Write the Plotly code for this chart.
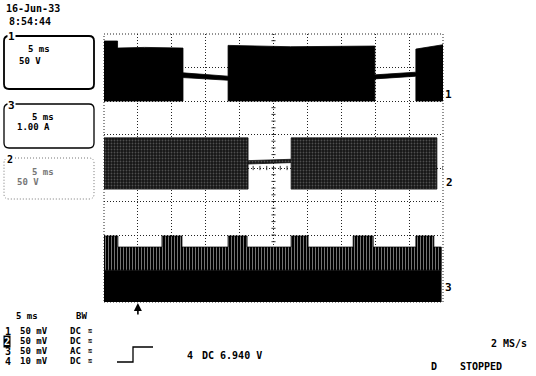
import plotly.graph_objects as go

# ---------------- data (units: screen divisions; 5 ms/div horizontally) ----------------
ch1_time  = [0.00, 0.40, 0.40, 1.20, 2.33, 2.33, 3.66, 3.66, 5.50, 7.99, 7.99, 9.20, 9.20, 10.00]
ch1_upper = [3.79, 3.79, 3.58, 3.60, 3.58, 2.84, 2.74, 3.66, 3.62, 3.64, 2.78, 2.86, 3.55, 3.68]
ch1_lower = [2.00, 2.00, 2.00, 2.00, 2.00, 2.70, 2.62, 2.00, 2.00, 2.00, 2.66, 2.74, 2.00, 2.00]

ch2_time  = [0.00, 4.25, 4.25, 5.52, 5.52, 9.82]
ch2_upper = [0.90, 0.90, 0.22, 0.26, 0.90, 0.90]
ch2_lower = [-0.63, -0.63, 0.12, 0.16, -0.63, -0.63]

ch3_burst_start = [0.00, 1.71, 3.66, 5.52, 7.35, 9.20]
ch3_burst_end   = [0.41, 2.30, 4.22, 6.02, 7.94, 9.73]
ch3_burst_level = [-2.03, -2.03, -2.03, -2.03, -2.03, -2.03]
ch3_base_level  = -2.36
ch3_streak_floor = -3.05
ch3_floor = -4.00
ch3_end = 9.95

# ---------------- geometry helpers (window pixel coordinates) ----------------
W, H = 536, 376
PL, PR, PT, PB = 104, 443, 34, 302


def px(x):
    return (x - PL) / (PR - PL)


def py(y):
    return (PB - y) / (PB - PT)


def band(t, up, lo):
    return list(t) + list(reversed(t)), list(up) + list(reversed(lo))


fig = go.Figure()

# channel 1
bx, by = band(ch1_time, ch1_upper, ch1_lower)
fig.add_trace(go.Scatter(x=bx, y=by, mode="lines", fill="toself", fillcolor="black",
                         line=dict(color="black", width=0.8), hoverinfo="skip"))

# channel 2 (noisy gray)
bx, by = band(ch2_time, ch2_upper, ch2_lower)
fig.add_trace(go.Scatter(x=bx, y=by, mode="lines", fill="toself",
                         fillpattern=dict(shape=".", bgcolor="#151515", fgcolor="#8a8a8a",
                                          size=3, solidity=0.3),
                         line=dict(color="#111", width=0.8), hoverinfo="skip"))

# channel 3 (switching burst envelope)
sx, sy = [], []
for s, e, lv in zip(ch3_burst_start, ch3_burst_end, ch3_burst_level):
    if s > 0:
        sx.append(s); sy.append(ch3_base_level)
    sx += [s, e, e]; sy += [lv, lv, ch3_base_level]
sx.append(ch3_end); sy.append(ch3_base_level)
fig.add_trace(go.Scatter(x=[0, ch3_end, ch3_end, 0], y=[ch3_floor, ch3_floor, ch3_streak_floor, ch3_streak_floor],
                         mode="lines", fill="toself", fillcolor="black",
                         line=dict(color="black", width=0.5), hoverinfo="skip"))
fig.add_trace(go.Scatter(x=sx + [ch3_end, 0], y=sy + [ch3_streak_floor, ch3_streak_floor],
                         mode="lines", fill="toself",
                         fillpattern=dict(shape="|", bgcolor="black", fgcolor="white",
                                          size=3, solidity=0.3),
                         line=dict(color="black", width=0.8), hoverinfo="skip"))

# ---------------- shapes ----------------
shapes = []
dot = "1px,2px"
shapes.append(dict(type="rect", xref="paper", yref="paper", x0=0, x1=1, y0=0, y1=1,
                   line=dict(color="#222", width=1, dash=dot), layer="below"))
# centre ticks
for i in range(51):
    xv = i * 0.2
    shapes.append(dict(type="line", xref="x", yref="paper", x0=xv, x1=xv,
                       y0=py(168) - 0.008, y1=py(168) + 0.008, line=dict(color="#333", width=1), layer="below"))
for i in range(41):
    yv = -4 + i * 0.2
    shapes.append(dict(type="line", xref="paper", yref="y", x0=0.5 - 0.006, x1=0.5 + 0.006,
                       y0=yv, y1=yv, line=dict(color="#333", width=1), layer="below"))


def rbox(x0, y0, x1, y1, r, color, width, dash="solid"):
    X = lambda v: px(v)
    Y = lambda v: py(v)
    p = (f"M {X(x0 + r)} {Y(y0)} L {X(x1 - r)} {Y(y0)} Q {X(x1)} {Y(y0)} {X(x1)} {Y(y0 + r)} "
         f"L {X(x1)} {Y(y1 - r)} Q {X(x1)} {Y(y1)} {X(x1 - r)} {Y(y1)} "
         f"L {X(x0 + r)} {Y(y1)} Q {X(x0)} {Y(y1)} {X(x0)} {Y(y1 - r)} "
         f"L {X(x0)} {Y(y0 + r)} Q {X(x0)} {Y(y0)} {X(x0 + r)} {Y(y0)} Z")
    return dict(type="path", xref="paper", yref="paper", path=p,
                line=dict(color=color, width=width, dash=dash))


shapes.append(rbox(4, 36, 94, 89, 5, "black", 1.8))
shapes.append(rbox(4, 104, 94, 148, 5, "black", 1.3))
shapes.append(rbox(4, 158, 94, 199, 5, "#777", 1, "1px,2px"))
# trigger step symbol
shapes.append(dict(type="path", xref="paper", yref="paper",
                   path=f"M {px(117)} {py(362)} L {px(133)} {py(362)} L {px(133)} {py(347)} L {px(153)} {py(347)}",
                   line=dict(color="black", width=1.3)))

# ---------------- text ----------------
ann = []
FONT = "DejaVu Sans Mono"


def txt(x, y, s, size=10, color="black", bold=True, bg=None, anchor="left"):
    d = dict(xref="paper", yref="paper", x=px(x), y=py(y), text=(f"<b>{s}</b>" if bold else s),
             showarrow=False, xanchor=anchor, yanchor="middle",
             font=dict(family=FONT, size=size, color=color))
    if bg:
        d["bgcolor"] = bg
        d["borderpad"] = 0
    ann.append(d)


txt(4, 9, "16-Jun-33")
txt(7, 21, "8:54:44")
# box 1
txt(7, 37, "1", 11, bg="white")
txt(26, 49, "5 ms", 9)
txt(17, 61, "50 V", 9)
# box 3
txt(7, 105, "3", 11, bg="white")
txt(30, 117, "5 ms", 9)
txt(15, 127, "1.00 A", 9)
# box 2
txt(6, 159, "2", 10, bg="white")
txt(30, 172, "5 ms", 9, color="#777")
txt(15, 182, "50 V", 9, color="#777")

# trace markers on the right
txt(443, 94, "1", 11)
txt(444, 182, "2", 11)
txt(443, 287, "3", 11)

# bottom settings area
txt(14, 316, "5 ms", 9)
txt(74, 316, "BW", 9)
rows = [("1", "50 mV", "DC", 331), ("2", "50 mV", "DC", 341), ("3", "50 mV", "AC", 351), ("4", "10 mV", "DC", 361)]
for ch, sc, cp, yy in rows:
    if ch == "2":
        txt(3, yy, ch, 10, color="white", bg="black")
    else:
        txt(3, yy, ch, 10)
    txt(18, yy, sc, 9)
    txt(68, yy, cp, 9)
    txt(86, yy, "≋", 7)
txt(185, 355, "4", 10)
txt(200, 355, "DC 6.940 V", 10)
txt(489, 343, "2 MS/s", 10)
txt(429, 366, "D", 10)
txt(458, 366, "STOPPED", 10)

# trigger position arrow
ann.append(dict(xref="x", yref="paper", x=1.0, y=py(303), text="", showarrow=True,
                arrowhead=2, arrowsize=1, arrowwidth=1.6, arrowcolor="black", ax=0, ay=13))

fig.update_layout(
    width=W, height=H,
    margin=dict(l=PL, r=W - PR, t=PT, b=H - PB, pad=0),
    paper_bgcolor="white", plot_bgcolor="white",
    showlegend=False,
    xaxis=dict(range=[0, 10], dtick=1, tick0=0, showticklabels=False, ticks="",
               showgrid=True, gridcolor="#222", gridwidth=1, griddash=dot, zeroline=False,
               showline=False, fixedrange=True),
    yaxis=dict(range=[-4, 4], dtick=1, tick0=-4, showticklabels=False, ticks="",
               showgrid=True, gridcolor="#222", gridwidth=1, griddash=dot, zeroline=False,
               showline=False, fixedrange=True),
    shapes=shapes, annotations=ann,
)

fig.write_html("out.html", config={"displayModeBar": False},
               post_script="document.body.style.margin='0px';document.body.style.overflow='hidden';")
